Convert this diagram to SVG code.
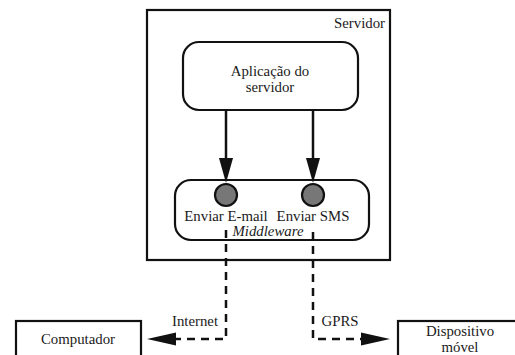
<svg xmlns="http://www.w3.org/2000/svg" width="515" height="355" viewBox="0 0 515 355">
<style>
text{font-family:'Liberation Serif','DejaVu Serif',serif;font-size:14.8px;fill:#1a1a1a}
.box{fill:#fff;stroke:#111;stroke-width:2.2}
.solid{stroke:#111;stroke-width:2.5;fill:none}
.dash{stroke:#111;stroke-width:2.5;fill:none;stroke-dasharray:8 6}
.head{fill:#111}
.port{fill:#777;stroke:#111;stroke-width:2.2}
</style>
<rect width="515" height="355" fill="#fff"/>
<g id="servidor">
<rect class="box" x="147" y="10" width="243" height="250"/>
<text x="385" y="28" text-anchor="end">Servidor</text>
</g>
<g id="aplicacao">
<rect class="box" x="183" y="42" width="175" height="68" rx="16"/>
<text x="270" y="76" text-anchor="middle">Aplicação do</text>
<text x="270" y="92" text-anchor="middle">servidor</text>
</g>
<g id="middleware">
<rect class="box" x="175" y="180" width="194" height="60" rx="16"/>
<circle class="port" cx="226" cy="195" r="11"/>
<circle class="port" cx="313" cy="195" r="11"/>
<text x="226" y="221" text-anchor="middle">Enviar E-mail</text>
<text x="313" y="221" text-anchor="middle">Enviar SMS</text>
<text x="268" y="236" text-anchor="middle" font-style="italic">Middleware</text>
</g>
<g id="computador">
<rect class="box" x="16" y="321" width="125" height="50"/>
<text x="78" y="344" text-anchor="middle">Computador</text>
</g>
<g id="dispositivo">
<rect class="box" x="398" y="321" width="130" height="50"/>
<text x="460" y="336" text-anchor="middle">Dispositivo</text>
<text x="460" y="352" text-anchor="middle">móvel</text>
</g>
<g id="connectors">
<line class="solid" x1="226" y1="110" x2="226" y2="160"/>
<polygon class="head" points="219,158 233,158 226,183"/>
<line class="solid" x1="313" y1="110" x2="313" y2="160"/>
<polygon class="head" points="306,158 320,158 313,183"/>
<polyline class="dash" points="226,230 226,339 176,339"/>
<polygon class="head" points="176,332.5 176,345.5 147,339"/>
<polyline class="dash" points="313,232 313,339 362,339"/>
<polygon class="head" points="361,332.5 361,345.5 390,339"/>
<text x="195" y="326" text-anchor="middle">Internet</text>
<text x="340" y="326" text-anchor="middle">GPRS</text>
</g>
</svg>
